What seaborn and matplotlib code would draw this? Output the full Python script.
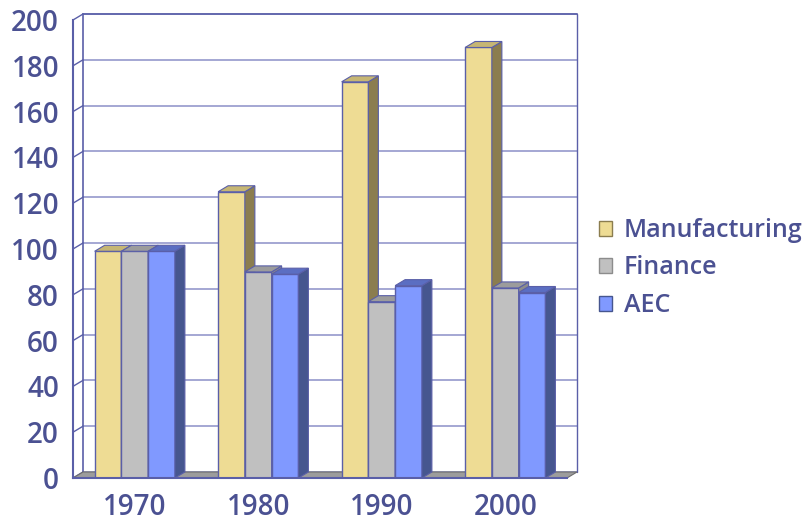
import matplotlib
matplotlib.use('Agg')
import matplotlib.pyplot as plt
import pandas as pd
import seaborn as sns
from matplotlib.patches import Polygon, Patch

years = ['1970', '1980', '1990', '2000']
series = ['Manufacturing', 'Finance', 'AEC']
manufacturing = [99, 125, 173, 188]
finance = [99, 90, 77, 83]
aec = [99, 89, 84, 81]
y_ticks = [0, 20, 40, 60, 80, 100, 120, 140, 160, 180, 200]

front_colors = ['#EEDC94', '#C0C0C0', '#8099FF']
side_colors = ['#8B7D4F', '#8C8C8C', '#46568F']
top_colors = ['#C6B674', '#9C9C9C', '#5B6EC2']
edge = '#5A5FA8'
grid_col = '#9598CC'
text_col = '#4B5192'

df = pd.DataFrame({
    'year': years * 3,
    'series': [s for s in series for _ in years],
    'value': manufacturing + finance + aec,
})

sns.set_style('white')
plt.rcParams['font.family'] = ['Open Sans', 'DejaVu Sans']
plt.rcParams['font.weight'] = 'semibold'

fig = plt.figure(figsize=(8.11, 5.22), dpi=100)
ax = fig.add_axes([73 / 811, 44 / 522, 494 / 811, 458 / 522])

sns.barplot(data=df, x='year', y='value', hue='series', palette=front_colors,
            saturation=1, width=0.65, errorbar=None, edgecolor=edge, linewidth=1,
            legend=False, ax=ax)

ax.set_xlim(-0.5, 3.5)
ax.set_ylim(0, 200)

# depth of the fake 3d in data units (about 10 px right, 6 px up)
dx = 10 / (494 / 4)
dy = 6 / (458 / 200)

# back wall + gridlines
for t in y_ticks:
    ax.plot([-0.5 + dx, 3.5 + dx], [t + dy, t + dy], color=grid_col, lw=1.2,
            zorder=0.5, clip_on=False)
    ax.plot([-0.5, -0.5 + dx], [t, t + dy], color=edge, lw=1, zorder=0.5,
            clip_on=False)
ax.plot([-0.5 + dx, -0.5 + dx], [dy, 200 + dy], color=edge, lw=1.2, zorder=0.5, clip_on=False)
ax.plot([3.5 + dx, 3.5 + dx], [dy, 200 + dy], color=edge, lw=1, zorder=0.5, clip_on=False)
ax.plot([-0.5 + dx, 3.5 + dx], [200 + dy, 200 + dy], color=edge, lw=1.2, zorder=0.5, clip_on=False)

# floor
ax.add_patch(Polygon([(-0.5, 0), (3.5, 0), (3.5 + dx, dy), (-0.5 + dx, dy)],
                     closed=True, facecolor='#9C9C9C', edgecolor='#6E6E6E',
                     lw=0.8, zorder=1, clip_on=False))

# side and top faces, drawn left to right so right bars cover left ones
bars = []
for i, cont in enumerate(ax.containers):
    for b in cont:
        bars.append((b.get_x(), i, b))
bars.sort(key=lambda t: t[0])
for k, (x0, i, b) in enumerate(bars):
    z = 2 + k * 0.1
    w = b.get_width()
    h = b.get_height()
    b.set_zorder(z)
    ax.add_patch(Polygon([(x0 + w, 0), (x0 + w + dx, dy), (x0 + w + dx, h + dy), (x0 + w, h)],
                         closed=True, facecolor=side_colors[i], edgecolor=edge,
                         lw=0.8, zorder=z, clip_on=False))
    ax.add_patch(Polygon([(x0, h), (x0 + dx, h + dy), (x0 + w + dx, h + dy), (x0 + w, h)],
                         closed=True, facecolor=top_colors[i], edgecolor=edge,
                         lw=0.8, zorder=z, clip_on=False))

# axes styling
for s in ['top', 'right']:
    ax.spines[s].set_visible(False)
for s in ['left', 'bottom']:
    ax.spines[s].set_color(edge)
    ax.spines[s].set_linewidth(1.5)
    ax.spines[s].set_zorder(10)

ax.set_yticks(y_ticks)
ax.set_xticks(range(len(years)))
ax.set_xticklabels(years)
ax.set_xticks([-0.5, 0.5, 1.5, 2.5, 3.5], minor=True)
ax.tick_params(axis='x', which='major', length=0, pad=11, labelsize=20, labelcolor=text_col)
ax.tick_params(axis='x', which='minor', length=7, width=1, color=edge, direction='out')
ax.tick_params(axis='y', length=7, width=1, color=edge, direction='out', pad=3,
               labelsize=20, labelcolor=text_col)
ax.set_xlabel('')
ax.set_ylabel('')

handles = [Patch(facecolor=front_colors[i], edgecolor=side_colors[i], lw=1) for i in range(3)]
ax.legend(handles, series, loc='center left', bbox_to_anchor=(586 / 811, 1 - 268 / 522),
          bbox_transform=fig.transFigure, frameon=False, fontsize=18,
          labelcolor=text_col, handlelength=0.55, handleheight=0.55,
          handletextpad=0.45, labelspacing=0.5, borderpad=0)

fig.savefig('out.png', dpi=100)
